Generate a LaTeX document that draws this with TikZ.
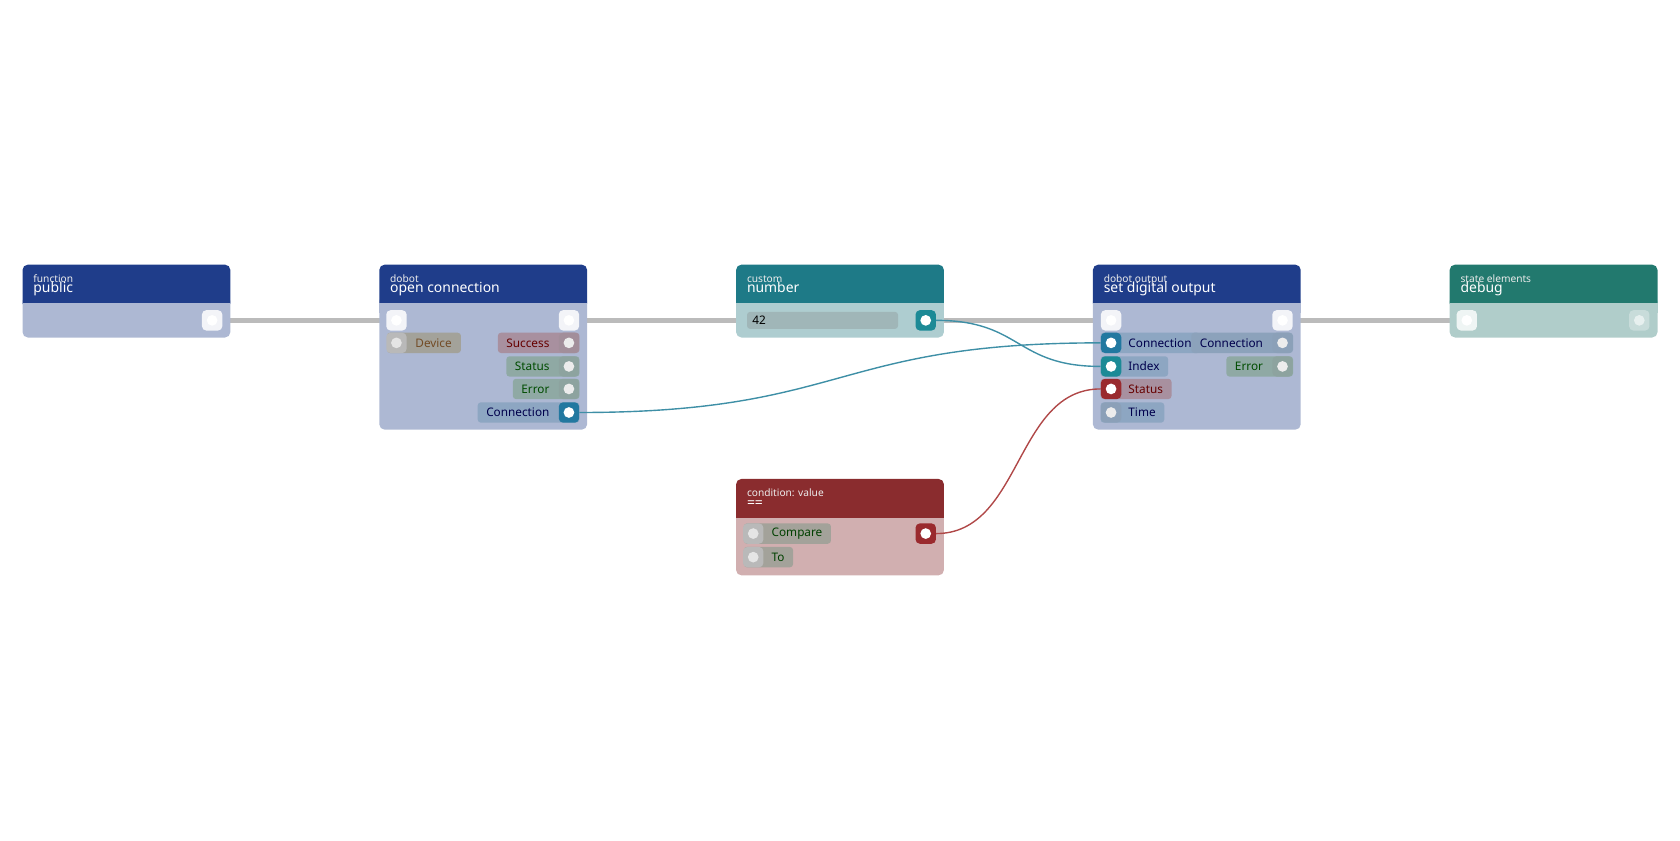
\documentclass[tikz,border=0pt]{standalone}
\usepackage{fontspec}
\setmainfont{Noto Sans}
\usetikzlibrary{positioning,backgrounds}

\definecolor{navyH}{HTML}{1F3D8A}
\definecolor{navyB}{HTML}{ADB8D3}
\definecolor{tealH}{HTML}{1E7A87}
\definecolor{tealB}{HTML}{AECDD0}
\definecolor{greenH}{HTML}{22796E}
\definecolor{greenB}{HTML}{B0CDCA}
\definecolor{redH}{HTML}{8A2C2E}
\definecolor{redB}{HTML}{D1AFB0}
\definecolor{wireG}{HTML}{BBBBBB}
\definecolor{wireT}{HTML}{3E8FA6}
\definecolor{wireR}{HTML}{B04848}
\definecolor{pillGrey}{HTML}{A3A29A}
\definecolor{pillPink}{HTML}{A8909F}
\definecolor{pillGreen}{HTML}{8FA9A4}
\definecolor{pillBlue}{HTML}{8DA6C2}
\definecolor{pinBlue}{HTML}{2278A0}
\definecolor{pinTeal}{HTML}{1C8A96}
\definecolor{pinRed}{HTML}{9A2A2E}

\tikzset{
  head/.style={fill=#1,rounded corners=5},
  body/.style={fill=#1,rounded corners=5},
  kind/.style={anchor=base west,text=white!85!gray,font=\fontsize{9.5}{10}\selectfont,inner sep=0},
  title/.style={anchor=base west,text=white,font=\fontsize{13}{14}\selectfont,inner sep=0},
  pill/.style={fill=#1,rounded corners=3,minimum height=19,inner ysep=0,inner xsep=0,
    font=\fontsize{11}{12}\selectfont},
  pin/.style={fill=#1,rounded corners=4,minimum size=19,inner sep=0},
  dot/.style={circle,fill=#1,minimum size=10,inner sep=0},
  exec/.style={line width=4,draw=wireG},
  link/.style={draw=#1,line width=1.3},
}

% one pin: name, position, pin colour, dot colour
\newcommand{\pinat}[4]{%
  \node[pin=#3] (#1) at (#2) {};
  \node[dot=#4] at (#1) {};}
% padded pill labels
\newcommand{\inlbl}[1]{\hspace*{26pt}#1\hspace*{8pt}}
\newcommand{\outlbl}[1]{\hspace*{8pt}#1\hspace*{28pt}}

\begin{document}
\begin{tikzpicture}[x=1pt,y=-1pt]
\useasboundingbox (0,0) rectangle (1568,784);

% node boxes
\foreach \x/\hc/\bc/\bot in {21/navyH/navyB/315,354/navyH/navyB/401,687/tealH/tealB/315,1020/navyH/navyB/401,1353/greenH/greenB/315}{
  \fill[body=\bc] (\x,276) rectangle (\x+194,\bot);
  \fill[head=\hc] (\x,247) rectangle (\x+194,288);
  \fill[\bc] (\x,283) rectangle (\x+194,292);
}
\fill[body=redB] (687,476) rectangle (881,537);
\fill[head=redH] (687,447) rectangle (881,488);
\fill[redB] (687,483) rectangle (881,492);

% headers
\node[kind] (k1) at (31,264) {function};
\node[title] (t1) at (31,273) {public};
\node[kind] (k2) at (364,264) {dobot};
\node[title] (t2) at (364,273) {open connection};
\node[kind] (k3) at (697,264) {custom};
\node[title] (t3) at (697,273) {number};
\node[kind] (k4) at (1030,264) {dobot output};
\node[title] (t4) at (1030,273) {set digital output};
\node[kind] (k5) at (1363,264) {state elements};
\node[title] (t5) at (1363,273) {debug};
\node[kind] (k6) at (697,463) {condition: value};
\node[title] (t6) at (697,474) {==};

% pills
\node[pill=pillGrey,text=brown!60!black,anchor=west,minimum width=69,align=left] (ocDevP) at (361,320) {\inlbl{Device}};
\node[pill=pillPink,text=red!40!black,anchor=east] (ocSucP) at (541,320) {\outlbl{Success}};
\node[pill=pillGreen,text=green!30!black,anchor=east] (ocStaP) at (541,342) {\outlbl{Status}};
\node[pill=pillGreen,text=green!30!black,anchor=east] (ocErrP) at (541,363) {\outlbl{Error}};
\node[pill=pillBlue,text=blue!30!black,anchor=east] (ocConP) at (541,385) {\outlbl{Connection}};
\node[pill=tealB!70!gray,anchor=west,text width=131,inner xsep=5,minimum height=16] (nVal) at (697,299) {42};
\node[pill=pillBlue,text=blue!30!black,anchor=west] (sConP) at (1027,320) {\inlbl{Connection}};
\node[pill=pillBlue!90!gray,text=blue!30!black,anchor=east] (sConOP) at (1207,320) {\outlbl{Connection}};
\node[pill=pillBlue,text=blue!30!black,anchor=west] (sIdxP) at (1027,342) {\inlbl{Index}};
\node[pill=pillPink,text=red!40!black,anchor=west] (sStaP) at (1027,363) {\inlbl{Status}};
\node[pill=pillBlue,text=blue!30!black,anchor=west] (sTimP) at (1027,385) {\inlbl{Time}};
\node[pill=pillGreen,text=green!30!black,anchor=east] (sErrP) at (1207,342) {\outlbl{Error}};
\node[pill=pillGrey,text=green!25!black,anchor=west,minimum width=80,align=left] (cCmpP) at (694,498) {\inlbl{Compare}};
\node[pill=pillGrey,text=green!25!black,anchor=west] (cToP) at (694,520) {\inlbl{To}};

% pins
\pinat{pOut}{198,299}{white!85!navyB}{white}
\pinat{ocIn}{370,299}{white!85!navyB}{white}
\pinat{ocOut}{531,299}{white!85!navyB}{white}
\pinat{ocDev}{370,320}{gray!55}{gray!20}
\pinat{ocSuc}{531,320}{pillPink!85!gray}{gray!15}
\pinat{ocSta}{531,342}{pillGreen!85!gray}{gray!15}
\pinat{ocErr}{531,363}{pillGreen!85!gray}{gray!15}
\pinat{ocCon}{531,385}{pinBlue}{white}
\pinat{nOut}{864,299}{pinTeal}{white}
\pinat{sIn}{1037,299}{white!85!navyB}{white}
\pinat{sOut}{1197,299}{white!85!navyB}{white}
\pinat{sCon}{1037,320}{pinBlue}{white}
\pinat{sConO}{1197,320}{pillBlue!85!gray}{gray!15}
\pinat{sIdx}{1037,342}{pinTeal}{white}
\pinat{sSta}{1037,363}{pinRed}{white}
\pinat{sTim}{1037,385}{pillBlue!85!gray}{gray!15}
\pinat{sErr}{1197,342}{pillGreen!85!gray}{gray!15}
\pinat{dIn}{1369,299}{white!80!greenB}{white}
\pinat{dOut}{1530,299}{white!30!greenB}{white!70!greenB}
\pinat{cCmp}{703,498}{gray!55}{gray!20}
\pinat{cTo}{703,520}{gray!55}{gray!20}
\pinat{cOut}{864,498}{pinRed}{white}

% wires
\begin{scope}[on background layer]
\draw[exec] (pOut) -- (ocIn);
\draw[exec] (ocOut) -- (sIn);
\draw[exec] (sOut) -- (dIn);
\end{scope}
\draw[link=wireT] (nOut) .. controls +(90,0) and +(-90,0) .. (sIdx);
\draw[link=wireT] (ocCon) .. controls +(260,0) and +(-260,0) .. (sCon);
\draw[link=wireR] (cOut) .. controls +(90,0) and +(-90,0) .. (sSta);
\end{tikzpicture}
\end{document}
